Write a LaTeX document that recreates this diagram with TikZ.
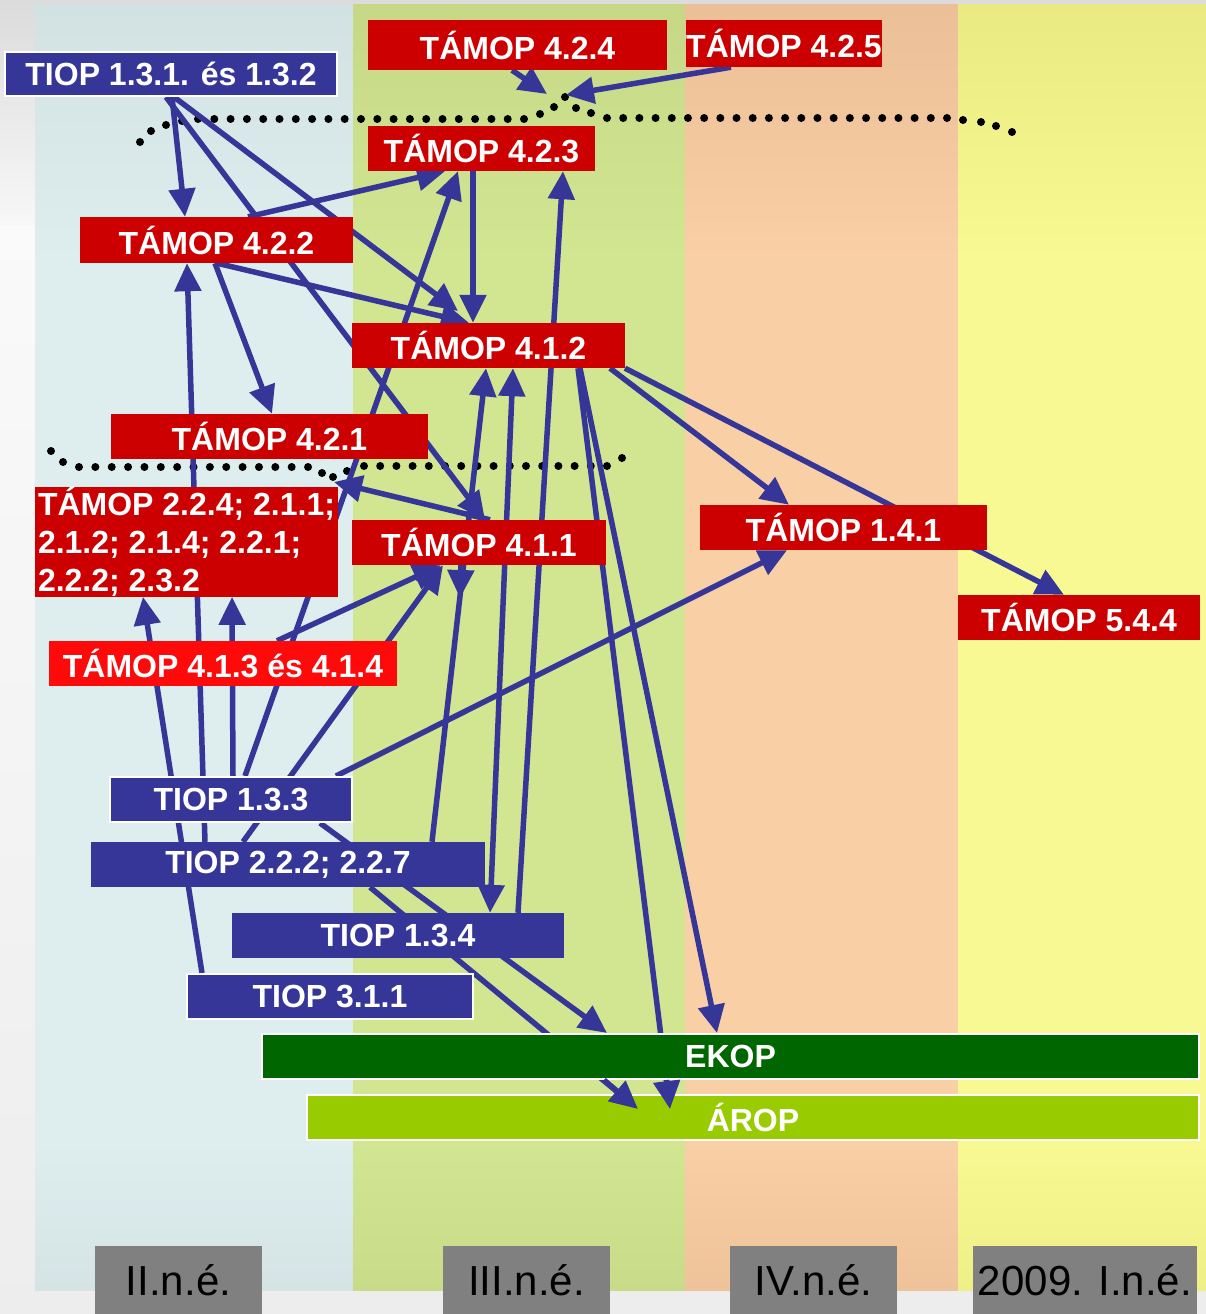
\documentclass[tikz,border=0pt]{standalone}
\usepackage{fontspec}
\setmainfont{Liberation Sans}
\usetikzlibrary{arrows.meta}
\pgfdeclarelayer{bg}
\pgfdeclarelayer{conn}
\pgfdeclarelayer{fg}
\pgfsetlayers{bg,conn,main,fg}
\definecolor{myred}{HTML}{CC0000}
\definecolor{brightred}{HTML}{FF0A0A}
\definecolor{myblue}{HTML}{363699}
\definecolor{ekopgreen}{HTML}{006600}
\definecolor{aropgreen}{HTML}{99CC00}
\definecolor{labelgray}{HTML}{808080}
\definecolor{colA}{HTML}{DEEEEE}
\definecolor{colAt}{HTML}{D2E1E1}
\definecolor{colAb}{HTML}{D5E3E5}
\definecolor{colB}{HTML}{D2E692}
\definecolor{colBt}{HTML}{C6D886}
\definecolor{colBb}{HTML}{C8DB88}
\definecolor{colC}{HTML}{F9CFA5}
\definecolor{colCt}{HTML}{EBBF97}
\definecolor{colCb}{HTML}{EEC39A}
\definecolor{colD}{HTML}{F9F993}
\definecolor{colDt}{HTML}{EAEA82}
\definecolor{colDb}{HTML}{EFEF88}
\newcommand\bxfont{\bfseries\fontsize{32}{38}\selectfont}
\newcommand\lbfont{\fontsize{42}{48}\selectfont}
\tikzset{
  box/.style={inner sep=0pt, text=white, font=\bxfont},
  redbox/.style={box, fill=myred},
  bluebox/.style={box, fill=myblue},
  wborder/.style={draw=white, line width=2pt},
  link/.style={draw=myblue, line width=5.5pt},
  arr/.style={link, -{Triangle[length=28pt,width=26pt]}},
  dblarr/.style={link, {Triangle[length=28pt,width=26pt]}-{Triangle[length=28pt,width=26pt]}},
  dotfill/.style={fill=black},
  period/.style={fill=labelgray, inner sep=0pt, text=black, font=\lbfont, minimum height=68pt}
}
\begin{document}
\begin{tikzpicture}[x=1pt,y=-1pt]
\useasboundingbox (0,0) rectangle (1206,1314);
\begin{pgfonlayer}{bg}
  \fill[white!93!black] (0,0) rectangle (1206,1314);
  \shade[top color=white!86!black, bottom color=white!97!black] (0,0) rectangle (1206,225);
  \shade[top color=white!98!black, bottom color=white!93!black] (0,225) rectangle (1206,1314);
  % columns: body colour, darker top band, darker bottom band
  \fill[colA] (35,5) rectangle (353,1290);
  \shade[top color=colAt, bottom color=colA] (35,5) rectangle (353,260);
  \shade[top color=colA, bottom color=colAb] (35,1140) rectangle (353,1290);
  \fill[colB] (353,5) rectangle (685,1290);
  \shade[top color=colBt, bottom color=colB] (353,5) rectangle (685,260);
  \shade[top color=colB, bottom color=colBb] (353,1140) rectangle (685,1290);
  \fill[colC] (685,5) rectangle (958,1290);
  \shade[top color=colCt, bottom color=colC] (685,5) rectangle (958,260);
  \shade[top color=colC, bottom color=colCb] (685,1140) rectangle (958,1290);
  \fill[colD] (958,5) rectangle (1206,1290);
  \shade[top color=colDt, bottom color=colD] (958,5) rectangle (1206,260);
  \shade[top color=colD, bottom color=colDb] (958,1140) rectangle (1206,1290);
\end{pgfonlayer}

% boxes
\node[redbox, minimum width=299pt, minimum height=50pt] (t424) at (517.5,45) {TÁMOP 4.2.4};
\node[redbox, minimum width=196pt, minimum height=47pt] (t425) at (784,43.5) {TÁMOP 4.2.5};
\node[bluebox, wborder, minimum width=332pt, minimum height=44pt] (tiop131) at (171,74) {TIOP 1.3.1. és 1.3.2};
\node[redbox, minimum width=227pt, minimum height=45pt] (t423) at (481.5,148.5) {TÁMOP 4.2.3};
\node[redbox, minimum width=273pt, minimum height=46pt] (t422) at (216.5,240) {TÁMOP 4.2.2};
\node[redbox, minimum width=273pt, minimum height=45pt] (t412) at (488.5,345.5) {TÁMOP 4.1.2};
\node[redbox, minimum width=317pt, minimum height=45pt] (t421) at (269.5,436.5) {TÁMOP 4.2.1};
\node[redbox, minimum width=303pt, minimum height=106pt, align=left] (t224) at (186.5,542) {TÁMOP 2.2.4; 2.1.1;\\2.1.2; 2.1.4; 2.2.1;\\2.2.2; 2.3.2};
\node[redbox, minimum width=254pt, minimum height=45pt] (t411) at (479,542.5) {TÁMOP 4.1.1};
\node[redbox, minimum width=287pt, minimum height=45pt] (t141) at (843.5,527.5) {TÁMOP 1.4.1};
\node[redbox, minimum width=242pt, minimum height=45pt] (t544) at (1079,617.5) {TÁMOP 5.4.4};
\node[box, fill=brightred, minimum width=348pt, minimum height=45pt] (t413) at (223,663.5) {TÁMOP 4.1.3 és 4.1.4};
\node[bluebox, wborder, minimum width=242pt, minimum height=45pt] (tiop133) at (231,799.5) {TIOP 1.3.3};
\node[bluebox, minimum width=394pt, minimum height=45pt] (tiop222) at (288,864.5) {TIOP 2.2.2; 2.2.7};
\node[bluebox, minimum width=332pt, minimum height=45pt] (tiop134) at (398,935.5) {TIOP 1.3.4};
\node[bluebox, wborder, minimum width=286pt, minimum height=45pt] (tiop311) at (330,996.5) {TIOP 3.1.1};
\node[box, wborder, fill=ekopgreen, minimum width=937pt, minimum height=45pt] (ekop) at (730.5,1056.5) {EKOP};
\node[box, wborder, fill=aropgreen, minimum width=892pt, minimum height=45pt] (arop) at (753,1117.5) {ÁROP};

% period labels
\node[period, minimum width=167pt] (p2) at (178.5,1280) {II.n.é.};
\node[period, minimum width=167pt] (p3) at (526.5,1280) {III.n.é.};
\node[period, minimum width=167pt] (p4) at (813.5,1280) {IV.n.é.};
\node[period, minimum width=224pt] (p5) at (1085,1280) {2009. I.n.é.};

% free ends
\coordinate (hump) at (566,95);
\coordinate (hump2) at (547,94);
\coordinate (dip) at (334,482);
\coordinate (c412a) at (458,311);
\coordinate (c411d) at (460,598);
\coordinate (aropA) at (638,1109);
\coordinate (aropB) at (670,1109);

\begin{pgfonlayer}{conn}
  % dotted boundary (upper)
  \foreach \p in {(140,142),(151,131),(166,125),(182,121),(540,114),(554,107),(565,97),(576,108),(591,113),(963,120),(981,122),(996,126),(1012,132)}
    \fill[dotfill] \p circle (4pt);
  \foreach \i in {0,...,20}
    \fill[dotfill] (198+16.3*\i,119) circle (4pt);
  \foreach \i in {0,...,21}
    \fill[dotfill] (607+16.19*\i,118) circle (4pt);
  % dotted boundary (lower)
  \foreach \p in {(51,451),(63,462),(322,473),(333,477),(347,471),(622,458)}
    \fill[dotfill] \p circle (4pt);
  \foreach \i in {0,...,14}
    \fill[dotfill] (79+16.36*\i,467) circle (4pt);
  \foreach \i in {0,...,15}
    \fill[dotfill] (364+16.2*\i,466) circle (4pt);
  % connectors
  \draw[arr] (172,0 |- tiop131.south) -- (185,0 |- t422.north);
  \draw[arr] (174,0 |- tiop131.south) -- (c412a);
  \draw[arr] (166,0 |- tiop131.south) -- (485,0 |- t411.north);
  \draw[arr] (248,0 |- t422.north) -- (445,0 |- t423.south);
  \draw[arr] (215,0 |- t422.south) -- (272,0 |- t421.north);
  \draw[arr] (217,0 |- t422.south) -- (469,0 |- t412.north);
  \draw[arr] (205,0 |- tiop222.north) -- (187,0 |- t422.south);
  \draw[arr] (473,0 |- t423.south) -- (473,0 |- t412.north);
  \draw[arr] (245,0 |- tiop133.north) -- (458,0 |- t423.south);
  \draw[arr] (518,0 |- tiop134.north) -- (563,0 |- t423.south);
  \draw[arr] (512,0 |- t424.south) -- (hump2);
  \draw[arr] (731,0 |- t425.south) -- (hump);
  \draw[arr] (490,0 |- t411.north) -- (dip);
  \draw[arr] (432,0 |- tiop222.north) -- (486,0 |- t412.south);
  \draw[dblarr] (513,0 |- t412.south) -- (490,0 |- tiop134.north);
  \draw[arr] (243,0 |- tiop222.north) -- (443,0 |- t411.south);
  \draw[arr] (277,0 |- t413.north) -- (441,0 |- t411.south);
  \draw[arr] (461,0 |- t411.south) -- (c411d);
  \draw[arr] (202,0 |- tiop311.north) -- (143,0 |- t224.south);
  \draw[arr] (233,0 |- tiop133.north) -- (232,0 |- t224.south);
  \draw[arr] (336,0 |- tiop133.north) -- (787,0 |- t141.south);
  \draw[arr] (320,0 |- tiop133.south) -- (607,0 |- ekop.north);
  \draw[link] (370,0 |- tiop222.south) -- (aropA);
  \draw[arr] (580,0 |- t412.south) -- (717,0 |- ekop.north);
  \draw[link] (578,0 |- t412.south) -- (aropB);
  \draw[arr] (610,0 |- t412.south) -- (789,0 |- t141.north);
  \draw[arr] (625,0 |- t412.south) -- (1064,0 |- t544.north);
\end{pgfonlayer}
% arrowheads that lie over the ÁROP bar
\begin{pgfonlayer}{fg}
  \draw[arr] (604,0 |- ekop.south) -- (aropA);
  \draw[arr] (666.5,0 |- ekop.south) -- (aropB);
\end{pgfonlayer}
\end{tikzpicture}
\end{document}
